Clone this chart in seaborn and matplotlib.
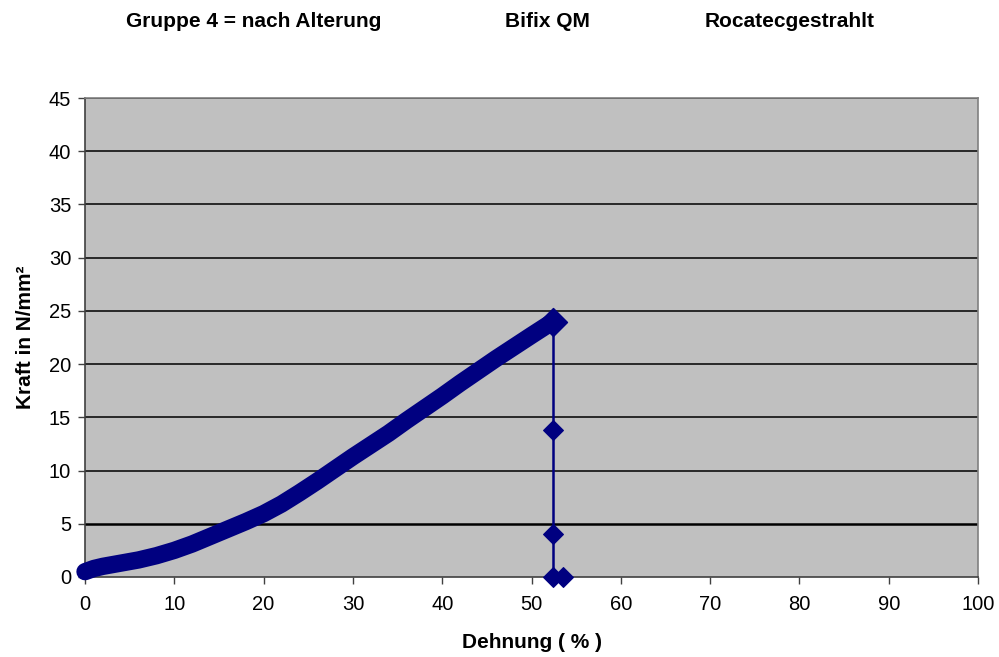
import matplotlib
matplotlib.use("Agg")
import matplotlib.pyplot as plt
import seaborn as sns
import pandas as pd

# Data
curve_strain = [0, 1, 2, 4, 6, 8, 10, 12, 14, 16, 18, 20, 22, 24, 26, 28, 30,
                32, 34, 36, 38, 40, 42, 44, 46, 48, 50, 52.4]
curve_force = [0.5, 0.8, 1.0, 1.3, 1.6, 2.0, 2.5, 3.1, 3.8, 4.5, 5.2, 5.95, 6.85,
               7.9, 9.0, 10.15, 11.3, 12.4, 13.5, 14.7, 15.85, 17.0, 18.2, 19.35,
               20.5, 21.6, 22.7, 24.0]
drop_strain = [52.4, 52.4, 52.4, 52.4, 53.5]
drop_force = [24.0, 13.8, 4.0, 0.0, 0.0]

x_ticks = list(range(0, 101, 10))
y_ticks = list(range(0, 46, 5))
titles = ["Gruppe 4 = nach Alterung", "Bifix QM", "Rocatecgestrahlt"]
x_label = "Dehnung ( % )"
y_label = "Kraft in N/mm²"

sns.set_theme(style="white")
plt.rcParams["font.family"] = ["Liberation Sans", "DejaVu Sans"]
plt.rcParams["text.color"] = "black"
plt.rcParams["axes.labelcolor"] = "black"

navy = "#000080"
fig = plt.figure(figsize=(9.99, 6.57), dpi=100)
fig.patch.set_facecolor("white")
ax = fig.add_axes([0.0851, 0.1218, 0.8939, 0.7290])
ax.set_facecolor("#C0C0C0")

curve_df = pd.DataFrame({"strain": curve_strain, "force": curve_force})
drop_df = pd.DataFrame({"strain": drop_strain, "force": drop_force})

sns.lineplot(data=curve_df, x="strain", y="force", sort=False, estimator=None,
             color=navy, linewidth=12.5, solid_capstyle="round",
             solid_joinstyle="round", ax=ax, zorder=3, clip_on=False)
sns.lineplot(data=drop_df, x="strain", y="force", sort=False, estimator=None,
             color=navy, linewidth=1.8, marker="D", markersize=10.5,
             markeredgecolor=navy, markerfacecolor=navy, ax=ax, zorder=4,
             clip_on=False)
# end point diamond of the curve
sns.scatterplot(x=[curve_strain[-1]], y=[curve_force[-1]], marker="D", s=200,
                color=navy, edgecolor=navy, ax=ax, zorder=5, clip_on=False)

ax.set_xlim(0, 100)
ax.set_ylim(0, 45)
ax.set_xticks(x_ticks)
ax.set_yticks(y_ticks)
ax.set_xticklabels([str(t) for t in x_ticks], fontsize=14.5, color="black")
ax.set_yticklabels([str(t) for t in y_ticks], fontsize=14.5, color="black")

for y in y_ticks[1:]:
    ax.axhline(y, color="black", linewidth=1.8 if y == 5 else 1.1, zorder=1)

ax.tick_params(axis="x", direction="out", length=5, width=1,
               color="#404040", pad=8, bottom=True)
ax.tick_params(axis="y", direction="out", length=5, width=1,
               color="#404040", pad=5, left=True)

for side in ["left", "bottom"]:
    ax.spines[side].set_color("#404040")
    ax.spines[side].set_linewidth(1.2)
for side in ["top", "right"]:
    ax.spines[side].set_color("#808080")
    ax.spines[side].set_linewidth(1.2)

ax.set_xlabel(x_label, fontsize=15, fontweight="bold", labelpad=14,
              color="black")
ax.set_ylabel(y_label, fontsize=15, fontweight="bold", labelpad=10,
              color="black")

for xpos, t in zip([0.2538, 0.5476, 0.790], titles):
    fig.text(xpos, 0.967, t, ha="center", va="center", fontsize=15,
             fontweight="bold", color="black")

fig.savefig("out.png", dpi=100)
